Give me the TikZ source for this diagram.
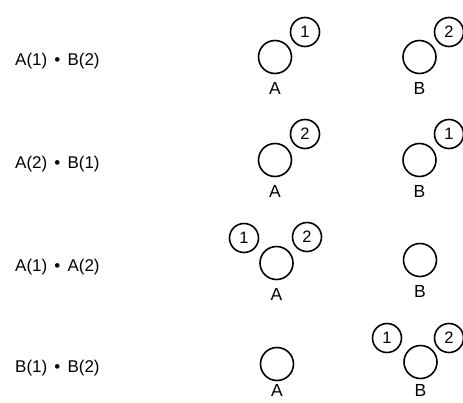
\documentclass[tikz,border=0pt]{standalone}
\usepackage{fontspec}
\setmainfont{Liberation Sans}
\newcommand{\dotsep}{\hspace{0.42em}•\hspace{0.42em}}
\begin{document}
\begin{tikzpicture}[x=1pt,y=-1pt,
  atom/.style={draw,circle,line width=1.6pt,minimum size=33pt,inner sep=0pt},
  elec/.style={draw,circle,line width=1.6pt,minimum size=29pt,inner sep=0pt,font=\fontsize{16.5}{19}\selectfont},
  lab/.style={font=\fontsize{17.5}{20}\selectfont,inner sep=0pt},
  term/.style={anchor=west,font=\fontsize{17}{20}\selectfont,inner sep=0pt}]
\useasboundingbox (0,0) rectangle (463,402);
% row 1
\node[term] (t1) at (15,61) {A(1)\dotsep B(2)};
\node[atom] (a1) at (275,57) {};
\node[lab] (la1) at (275,88) {A};
\node[elec] (e11) at (305,32) {1};
\node[atom] (b1) at (419.5,57) {};
\node[lab] (lb1) at (419.5,88) {B};
\node[elec] (e12) at (449,32) {2};
% row 2
\node[term] (t2) at (15,164) {A(2)\dotsep B(1)};
\node[atom] (a2) at (275,160) {};
\node[lab] (la2) at (275,191) {A};
\node[elec] (e22) at (305,134) {2};
\node[atom] (b2) at (419.5,160) {};
\node[lab] (lb2) at (419.5,191) {B};
\node[elec] (e21) at (449,134) {1};
% row 3
\node[term] (t3) at (15,267) {A(1)\dotsep A(2)};
\node[atom] (a3) at (276.5,263) {};
\node[lab] (la3) at (276.5,294) {A};
\node[elec] (e31) at (244,238) {1};
\node[elec] (e32) at (307,237) {2};
\node[atom] (b3) at (420,260) {};
\node[lab] (lb3) at (420,291) {B};
% row 4
\node[term] (t4) at (15,368) {B(1)\dotsep B(2)};
\node[atom] (a4) at (277,364) {};
\node[lab] (la4) at (277,390) {A};
\node[atom] (b4) at (420.5,362) {};
\node[lab] (lb4) at (420.5,390) {B};
\node[elec] (e41) at (387,338) {1};
\node[elec] (e42) at (449,338) {2};
\end{tikzpicture}
\end{document}
